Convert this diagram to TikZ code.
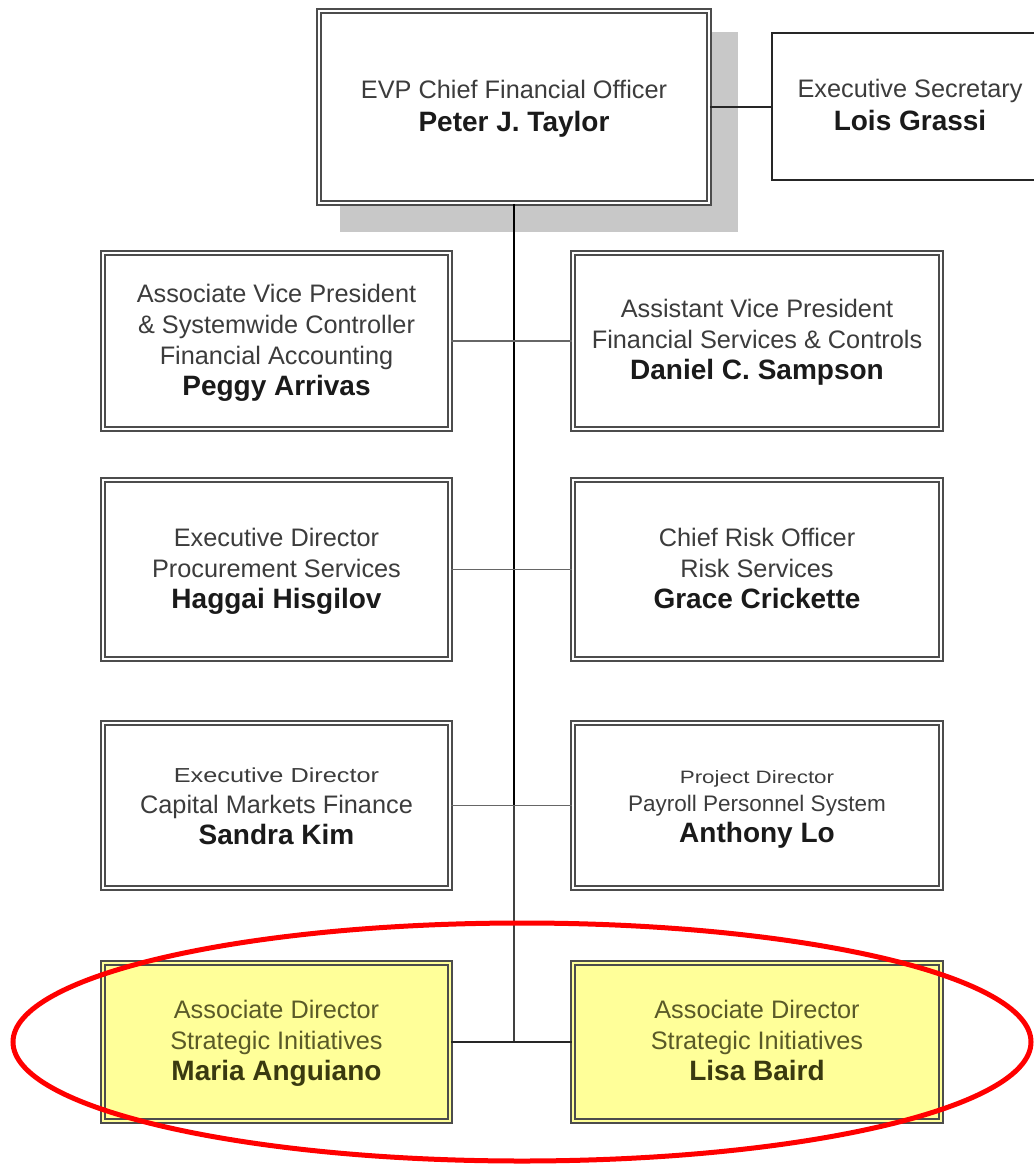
\documentclass[tikz,border=0pt]{standalone}
\usepackage{fontspec}
\usetikzlibrary{shapes.geometric}
\setmainfont{Liberation Sans}
\definecolor{roletext}{HTML}{3C3C3C}
\definecolor{nametext}{HTML}{1A1A1A}
\definecolor{yfill}{HTML}{FFFF99}
\definecolor{ytext}{HTML}{5A5A28}
\definecolor{yname}{HTML}{3A3A10}
\definecolor{shadowgray}{HTML}{C8C8C8}
\definecolor{ringred}{HTML}{FF0000}
\begin{document}
\begin{tikzpicture}[x=1pt,y=-1pt,
  orgbox/.style={draw=black!70, line width=1.6pt, double=white, double distance=2.4pt,
     fill=white, align=center, inner sep=0pt, minimum width=347, minimum height=176,
     font=\fontsize{25.3}{31}\selectfont, text=roletext},
  ybox/.style={orgbox, fill=yfill, double=yfill, text=ytext},
  plainbox/.style={draw=black!85, line width=1.5pt, fill=white, align=center, inner sep=0pt,
     font=\fontsize{25.3}{33}\selectfont, text=roletext},
  trunk/.style={draw=black, line width=2.8pt},
  link/.style={draw=black!60, line width=1.6pt},
]
\useasboundingbox (0,0) rectangle (1033,1164);
\newcommand{\nm}[1]{{\fontsize{28}{31}\selectfont\bfseries\color{nametext}#1\strut}}
\newcommand{\ynm}[1]{{\fontsize{28}{31}\selectfont\bfseries\color{yname}#1\strut}}
\newcommand{\squat}[2]{{\fontsize{#1}{31}\selectfont\scalebox{1}[0.8]{#2}}}
\newcommand{\tp}{\rule{0pt}{25pt}}

% shadow of the top box
\fill[shadowgray] (340,32) rectangle (738,232);

\node[orgbox, minimum width=390, minimum height=192, font=\fontsize{25.3}{33}\selectfont] (top) at (514,107)
  {\tp EVP Chief Financial Officer\\ \nm{Peter J. Taylor}};
\node[plainbox, minimum width=276, minimum height=147] (sec) at (910,106.5)
  {\tp Executive Secretary\\ \nm{Lois Grassi}};

\node[orgbox] (l1) at (276.5,341)
  {\tp Associate Vice President\\ \& Systemwide Controller\\ Financial Accounting\\ \nm{Peggy Arrivas}};
\node[orgbox, minimum width=368] (r1) at (757,341)
  {\tp Assistant Vice President\\ Financial Services \& Controls\\ \nm{Daniel C. Sampson}};

\node[orgbox, minimum height=179] (l2) at (276.5,569.5)
  {\tp Executive Director\\ Procurement Services\\ \nm{Haggai Hisgilov}};
\node[orgbox, minimum width=368, minimum height=179] (r2) at (757,569.5)
  {\tp Chief Risk Officer\\ Risk Services\\ \nm{Grace Crickette}};

\node[orgbox, minimum height=165] (l3) at (276.5,805.5)
  {\tp\squat{25.3}{Executive Director}\\ Capital Markets Finance\\ \nm{Sandra Kim}};
\node[orgbox, minimum width=368, minimum height=165] (r3) at (757,805.5)
  {\tp\squat{22.4}{Project Director}\\[-3pt] {\fontsize{22.5}{29}\selectfont Payroll Personnel System}\\ \nm{Anthony Lo}};

\node[ybox, minimum height=158] (l4) at (276.5,1042)
  {\tp Associate Director\\ Strategic Initiatives\\ \ynm{Maria Anguiano}};
\node[ybox, minimum width=368, minimum height=158] (r4) at (757,1042)
  {\tp Associate Director\\ Strategic Initiatives\\ \ynm{Lisa Baird}};

% connectors
\coordinate (j3) at (top.south |- l3.east);
\coordinate (j4) at (top.south |- l4.east);
\draw[trunk] (top.south) -- (j3);
\draw[link, draw=black!75, line width=2.2pt] (j3) -- (j4);
\draw[link, draw=black!85] (top.east) -- (top.east -| sec.west);
\draw[link] (l1.east) -- (r1.west);
\draw[link] (l2.east) -- (r2.west);
\draw[link] (l3.east) -- (r3.west);
\draw[link, draw=black!85] (l4.east) -- (r4.west);

% highlight ring
\node[draw=ringred, line width=5pt, ellipse, minimum width=1018, minimum height=238, inner sep=0pt] (ring) at (522,1042) {};
\end{tikzpicture}
\end{document}
